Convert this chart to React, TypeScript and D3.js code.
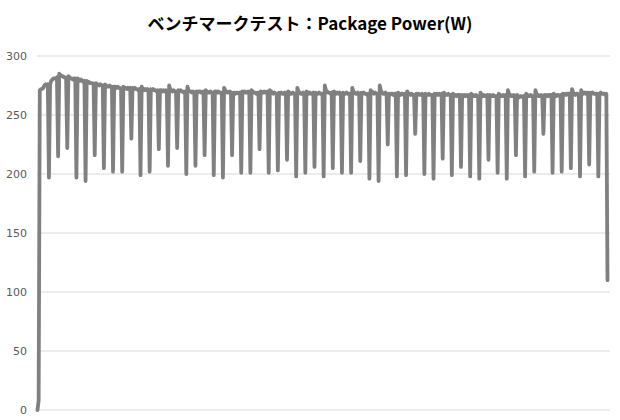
import * as React from "react";
import { line, scaleLinear } from "d3";

const title = "ベンチマークテスト：Package Power(W)";
const yTicks = [0, 50, 100, 150, 200, 250, 300];

// samples before the first dip (power-on ramp)
const startup = [0, 8, 271, 272, 272, 273, 275, 276, 275, 276];

// lowest value of each periodic dip, left to right
const dipLows = [
  197, 215, 222, 197, 194, 216, 205, 202, 202, 230,
  199, 202, 221, 207, 222, 200, 207, 216, 199, 197,
  216, 201, 201, 221, 201, 203, 212, 198, 201, 206,
  198, 205, 201, 201, 211, 196, 194, 225, 198, 199,
  234, 200, 196, 213, 199, 206, 198, 196, 212, 201,
  196, 216, 198, 202, 234, 201, 202, 205, 198, 208,
  198,
];

// plateau samples following each dip
const plateauLevels = [
  [276, 279, 280, 281, 281, 281, 282], [285, 284, 283, 283, 282, 282, 281],
  [283, 282, 281, 281, 280, 281, 281], [281, 280, 279, 280, 279, 278, 279],
  [279, 278, 278, 277, 277, 277, 276], [277, 276, 276, 275, 276, 275, 275],
  [276, 275, 274, 274, 275, 274, 274], [274, 274, 273, 274, 273, 273, 272],
  [274, 273, 273, 272, 273, 272, 273], [273, 272, 273, 272, 272, 271, 272],
  [274, 272, 271, 272, 271, 272, 271], [272, 271, 272, 271, 271, 270, 271],
  [271, 271, 270, 271, 270, 271, 270], [275, 272, 271, 270, 271, 270, 270],
  [271, 270, 271, 270, 270, 269, 270], [274, 271, 270, 270, 269, 270, 269],
  [270, 269, 270, 270, 269, 269, 270], [271, 270, 269, 269, 270, 269, 269],
  [270, 270, 269, 270, 269, 269, 269], [273, 271, 270, 269, 269, 270, 269],
  [269, 269, 268, 269, 269, 268, 269], [270, 269, 270, 269, 269, 270, 269],
  [271, 270, 269, 269, 268, 269, 269], [270, 269, 269, 270, 269, 269, 270],
  [271, 270, 269, 268, 269, 268, 268], [269, 268, 269, 268, 268, 269, 268],
  [270, 269, 268, 268, 269, 268, 268], [273, 270, 269, 268, 268, 269, 268],
  [270, 269, 268, 269, 268, 268, 269], [269, 268, 268, 269, 268, 268, 268],
  [275, 271, 270, 269, 269, 268, 269], [270, 269, 268, 269, 268, 269, 268],
  [269, 268, 268, 269, 268, 268, 268], [273, 270, 269, 268, 268, 269, 268],
  [269, 268, 269, 268, 268, 267, 268], [271, 270, 269, 268, 269, 268, 268],
  [275, 271, 269, 268, 268, 269, 268], [268, 267, 268, 268, 267, 268, 268],
  [269, 268, 267, 268, 268, 267, 268], [270, 268, 268, 267, 268, 267, 267],
  [268, 267, 268, 267, 267, 268, 267], [268, 267, 267, 268, 267, 267, 267],
  [268, 267, 268, 267, 268, 267, 268], [269, 268, 267, 267, 268, 267, 267],
  [268, 267, 267, 266, 267, 267, 267], [267, 266, 267, 266, 267, 266, 267],
  [268, 267, 266, 266, 267, 266, 266], [269, 267, 266, 267, 266, 266, 267],
  [267, 266, 266, 267, 266, 266, 266], [268, 267, 266, 266, 267, 266, 267],
  [271, 268, 267, 266, 266, 267, 266], [267, 266, 265, 266, 266, 265, 266],
  [268, 267, 266, 266, 267, 266, 266], [271, 268, 267, 266, 266, 267, 266],
  [267, 266, 267, 266, 267, 267, 267], [268, 267, 266, 267, 267, 266, 267],
  [268, 267, 268, 267, 268, 268, 268], [272, 269, 268, 267, 268, 268, 267],
  [271, 269, 268, 269, 268, 269, 269], [269, 268, 269, 268, 268, 268, 268],
  [268, 269, 268, 268, 268, 267, 268],
];

// final sample as the load stops
const shutdown = [110];

const power: number[] = [
  ...startup,
  ...dipLows.flatMap((d, i) => [d, ...plateauLevels[i]]),
  ...shutdown,
];

export default function App() {
  const width = 620;
  const height = 420;
  const left = 37;
  const right = 610;

  const xScale = scaleLinear()
    .domain([0, power.length - 1])
    .range([37.5, 607.5]);

  const yScale = scaleLinear()
    .domain([0, 300])
    .range([410, 56]);

  const path = line<number>()
    .x((_, i) => xScale(i))
    .y((d) => yScale(d))(power);

  return (
    <svg
      width={width}
      height={height}
      style={{ position: "absolute", left: 0, top: 0, background: "#fff" }}
    >
      <text
        x={width / 2}
        y={30}
        textAnchor="middle"
        fontFamily="'Noto Sans CJK JP', 'Noto Sans', sans-serif"
        fontWeight="bold"
        fontSize={17}
        fill="#000"
      >
        {title}
      </text>
      {yTicks.map((t) => (
        <g key={t}>
          <line
            x1={left}
            x2={right}
            y1={yScale(t)}
            y2={yScale(t)}
            stroke="#d9d9d9"
            strokeWidth={1}
          />
          <text
            x={27}
            y={yScale(t)}
            dy="0.35em"
            textAnchor="end"
            fontFamily="'DejaVu Sans', Verdana, sans-serif"
            fontSize={11}
            fill="#595959"
          >
            {t}
          </text>
        </g>
      ))}
      <path
        d={path || ""}
        fill="none"
        stroke="#808080"
        strokeWidth={3.8}
        strokeLinejoin="round"
        strokeLinecap="round"
      />
    </svg>
  );
}
